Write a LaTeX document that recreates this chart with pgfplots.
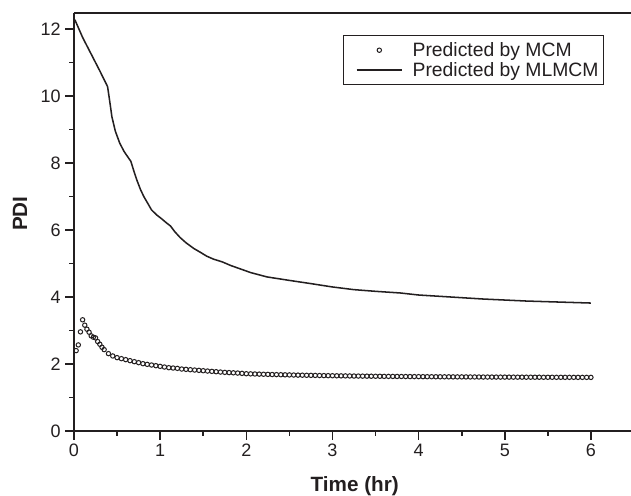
\documentclass[border=0pt]{standalone}
\usepackage{fontspec}
\setmainfont{Liberation Sans}
\usepackage{pgfplots}
\pgfplotsset{compat=1.18}
\definecolor{ink}{HTML}{231F20}
\pgfplotsset{
  mcmleg/.style={legend image code/.code={\path[draw=none,fill=none] (-8pt,0pt) -- (40pt,0pt);\draw[##1] plot coordinates {(17pt,0pt)};}},
  lineleg/.style={legend image code/.code={\path[draw=none,fill=none] (-8pt,0pt) -- (40pt,0pt);\draw[##1] (0pt,0pt) -- (34pt,0pt);}},
}
\begin{document}
\begin{tikzpicture}
\begin{axis}[
  scale only axis,
  width=417.75pt, height=313.5pt,
  xmin=0, xmax=6.465, ymin=0, ymax=12.48,
  axis x line=box, axis y line=left,
  axis line style={-, line width=1.3pt, ink},
  y axis line style={-},
  xtick pos=bottom,
  tick align=outside,
  xtick={0,1,2,3,4,5,6}, minor x tick num=1,
  ytick={0,2,4,6,8,10,12}, minor y tick num=1,
  major tick length=6.5pt, minor tick length=3.5pt,
  every tick/.style={ink, line width=1.2pt},
  /pgf/number format/assume math mode=true,
  tick label style={font=\fontsize{13.5}{15}\selectfont, text=ink},
  xlabel={\textbf{Time (hr)}},
  ylabel={\textbf{PDI}},
  xlabel style={at={(axis description cs:0.504,-0.145)}, anchor=base, font=\fontsize{15.5}{17}\selectfont, text=ink},
  ylabel style={at={(axis description cs:-0.097,0.52)}, anchor=center, font=\fontsize{15.5}{17}\selectfont, text=ink},
  legend style={at={(axis description cs:0.952,0.947)}, anchor=north east, draw=ink, line width=0.6pt,
    font=\fontsize{14.5}{16}\selectfont, text=ink, inner xsep=2pt, inner ysep=3pt, row sep=-1pt,
    column sep=0pt},
  legend cell align=left,
  clip=false,
]
\addplot[only marks, mark=o, mark size=1.65pt, mark options={line width=0.75pt, ink}, ink, mcmleg]
coordinates {
(0.025,2.40)(0.05,2.57)(0.075,2.96)(0.10,3.32)(0.125,3.16)(0.15,3.04)(0.175,2.95)(0.20,2.84)
(0.225,2.80)(0.25,2.78)(0.275,2.67)(0.30,2.59)(0.325,2.50)(0.35,2.43)
(0.40,2.31)(0.45,2.24)(0.50,2.19)(0.55,2.16)(0.60,2.13)(0.65,2.10)(0.70,2.07)(0.75,2.04)
(0.80,2.01)(0.85,1.99)(0.90,1.97)(0.95,1.95)(1.00,1.93)(1.05,1.91)(1.10,1.89)(1.15,1.88)
(1.20,1.87)(1.25,1.85)(1.30,1.84)(1.35,1.83)(1.40,1.82)(1.45,1.81)(1.50,1.80)(1.55,1.79)
(1.60,1.78)(1.65,1.77)(1.70,1.76)(1.75,1.75)(1.80,1.744)(1.85,1.737)(1.90,1.730)(1.95,1.720)
(2.00,1.710)(2.05,1.706)(2.10,1.702)(2.15,1.698)(2.20,1.694)(2.25,1.690)(2.30,1.686)(2.35,1.683)
(2.40,1.680)(2.45,1.677)(2.50,1.674)(2.55,1.671)(2.60,1.668)(2.65,1.666)(2.70,1.663)(2.75,1.661)
(2.80,1.659)(2.85,1.656)(2.90,1.654)(2.95,1.652)(3.00,1.650)(3.05,1.648)(3.10,1.646)(3.15,1.645)
(3.20,1.643)(3.25,1.641)(3.30,1.640)(3.35,1.638)(3.40,1.637)(3.45,1.635)(3.50,1.634)(3.55,1.633)
(3.60,1.631)(3.65,1.630)(3.70,1.629)(3.75,1.628)(3.80,1.627)(3.85,1.626)(3.90,1.625)(3.95,1.624)
(4.00,1.623)(4.05,1.622)(4.10,1.621)(4.15,1.620)(4.20,1.619)(4.25,1.618)(4.30,1.618)(4.35,1.617)
(4.40,1.616)(4.45,1.615)(4.50,1.615)(4.55,1.614)(4.60,1.613)(4.65,1.613)(4.70,1.612)(4.75,1.611)
(4.80,1.611)(4.85,1.610)(4.90,1.610)(4.95,1.609)(5.00,1.609)(5.05,1.608)(5.10,1.608)(5.15,1.607)
(5.20,1.607)(5.25,1.606)(5.30,1.606)(5.35,1.605)(5.40,1.605)(5.45,1.604)(5.50,1.604)(5.55,1.604)
(5.60,1.603)(5.65,1.603)(5.70,1.602)(5.75,1.602)(5.80,1.602)(5.85,1.601)(5.90,1.601)(5.95,1.601)
(6.00,1.600)
};
\addlegendentry{Predicted by MCM}
\addplot[ink, line width=1.15pt, no marks, lineleg]
coordinates {
(0.01,12.28)(0.10,11.75)(0.20,11.25)(0.30,10.75)(0.39,10.28)(0.42,9.75)(0.44,9.38)(0.48,8.95)
(0.53,8.60)(0.58,8.35)(0.62,8.20)(0.66,8.05)(0.70,7.72)(0.73,7.49)(0.77,7.22)(0.81,7.00)
(0.86,6.78)(0.90,6.60)(0.96,6.45)(1.02,6.33)(1.07,6.22)(1.12,6.12)(1.17,5.95)(1.23,5.78)
(1.30,5.62)(1.39,5.45)(1.47,5.33)(1.54,5.22)(1.62,5.13)(1.72,5.05)(1.82,4.94)(1.93,4.84)
(2.05,4.73)(2.24,4.60)(2.49,4.50)(2.75,4.40)(3.00,4.30)(3.25,4.22)(3.50,4.17)(3.79,4.12)
(4.00,4.06)(4.25,4.02)(4.50,3.98)(4.75,3.94)(5.00,3.91)(5.25,3.88)(5.50,3.86)(5.75,3.84)
(6.00,3.82)
};
\addlegendentry{Predicted by MLMCM}
\coordinate (O) at (rel axis cs:0,0);
\coordinate (TR) at (rel axis cs:1,1);
\end{axis}
\pgfresetboundingbox
\path ([shift={(-55.5pt,-48.75pt)}]O) rectangle ([shift={(0pt,9.75pt)}]TR);
\end{tikzpicture}
\end{document}
